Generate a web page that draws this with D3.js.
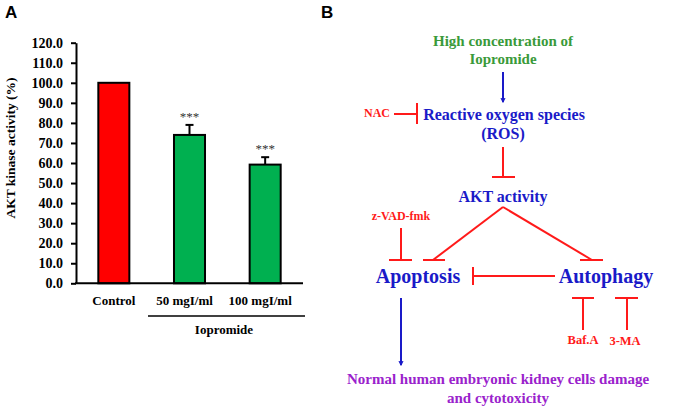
<!DOCTYPE html>
<html>
<head>
<meta charset="utf-8">
<script src="https://cdn.jsdelivr.net/npm/d3@7"></script>
<style>
  body { margin: 0; background: #fff; }
  svg text { font-family: "Liberation Serif", "Times New Roman", serif; font-weight: bold; }
</style>
</head>
<body>
<script>
// chart values
const categories = ["Control", "50 mgI/ml", "100 mgI/ml"];
const values = [100, 74, 59.2];
const errors = [0, 5, 3.7];
const stars = ["", "***", "***"];
const barColors = ["#ff0000", "#00b050", "#00b050"];
const yTicks = d3.range(0, 121, 10);

const W = 677, H = 409;
const svg = d3.select("body").append("svg")
    .attr("width", W)
    .attr("height", H);

// panel letters
svg.append("text").attr("x", 5).attr("y", 18).text("A")
    .style("font-family", "Liberation Sans, Arial, sans-serif").style("font-size", "17px");
svg.append("text").attr("x", 321).attr("y", 18).text("B")
    .style("font-family", "Liberation Sans, Arial, sans-serif").style("font-size", "17px");

// ---- Panel A: bar chart ----
const y = d3.scaleLinear().domain([0, 120]).range([283.3, 42.7]);
const x = d3.scaleBand().domain(categories).range([76, 303]).paddingInner(0.59).paddingOuter(0.295);

const g = svg.append("g");

const yAxis = g.append("g")
    .attr("transform", "translate(76,0)")
    .call(d3.axisLeft(y).tickValues(yTicks).tickFormat(d3.format(".1f")).tickSize(5).tickSizeOuter(0).tickPadding(8));
yAxis.select(".domain").attr("stroke-width", 2);
yAxis.selectAll(".tick line").attr("stroke-width", 2);
yAxis.selectAll("text").style("font-size", "14px").style("font-family", "Liberation Serif, serif").style("font-weight", "bold").attr("fill", "#000");

g.selectAll("rect.bar")
  .data(values)
  .join("rect")
    .attr("class", "bar")
    .attr("x", (d, i) => x(categories[i]))
    .attr("width", x.bandwidth())
    .attr("y", d => y(d))
    .attr("height", d => y(0) - y(d))
    .attr("fill", (d, i) => barColors[i])
    .attr("stroke", "#000")
    .attr("stroke-width", 2);

// error bars (upper only)
const errs = values.map((v, i) => ({ v, e: errors[i], c: categories[i], s: stars[i] })).filter(d => d.e > 0);
g.selectAll("line.err")
  .data(errs)
  .join("line")
    .attr("x1", d => x(d.c) + x.bandwidth() / 2)
    .attr("x2", d => x(d.c) + x.bandwidth() / 2)
    .attr("y1", d => y(d.v))
    .attr("y2", d => y(d.v + d.e))
    .attr("stroke", "#000").attr("stroke-width", 2);
g.selectAll("line.cap")
  .data(errs)
  .join("line")
    .attr("x1", d => x(d.c) + x.bandwidth() / 2 - 4)
    .attr("x2", d => x(d.c) + x.bandwidth() / 2 + 4)
    .attr("y1", d => y(d.v + d.e))
    .attr("y2", d => y(d.v + d.e))
    .attr("stroke", "#000").attr("stroke-width", 2);
g.selectAll("text.star")
  .data(errs)
  .join("text")
    .attr("x", d => x(d.c) + x.bandwidth() / 2)
    .attr("y", d => y(d.v + d.e) - 4)
    .attr("text-anchor", "middle")
    .style("font-size", "13px")
    .style("font-weight", "normal")
    .attr("fill", "#333")
    .text(d => d.s);

// x axis line
g.append("line")
    .attr("x1", 75).attr("x2", 303)
    .attr("y1", y(0)).attr("y2", y(0))
    .attr("stroke", "#000").attr("stroke-width", 2);

g.selectAll("text.cat")
  .data(categories)
  .join("text")
    .attr("x", (d, i) => x(d) + x.bandwidth() / 2 - (i ? 5 : 0))
    .attr("y", 305)
    .attr("text-anchor", "middle")
    .style("font-size", "13px")
    .text(d => d);

g.append("line").attr("x1", 148).attr("x2", 305).attr("y1", 316).attr("y2", 316)
    .attr("stroke", "#000").attr("stroke-width", 1.5);
g.append("text").attr("x", 224).attr("y", 334).attr("text-anchor", "middle")
    .style("font-size", "13px").text("Iopromide");

g.append("text")
    .attr("transform", "translate(15,148) rotate(-90)")
    .attr("text-anchor", "middle")
    .style("font-size", "13.5px")
    .text("AKT kinase activity (%)");

// ---- Panel B: pathway diagram ----
const blue = "#1a1ac8", red = "#ff1a1a", green = "#3a9a3a", purple = "#9a22cc";
const b = svg.append("g");

function label(txt, cx, cy, size, color) {
  b.append("text").attr("x", cx).attr("y", cy).attr("text-anchor", "middle")
    .attr("dominant-baseline", "central")
    .style("font-size", size + "px").attr("fill", color).text(txt);
}
function seg(x1, y1, x2, y2, color) {
  b.append("line").attr("x1", x1).attr("y1", y1).attr("x2", x2).attr("y2", y2)
    .attr("stroke", color).attr("stroke-width", 2);
}

svg.append("defs").append("marker")
    .attr("id", "arrow").attr("viewBox", "0 0 10 10")
    .attr("refX", 9).attr("refY", 5)
    .attr("markerWidth", 5).attr("markerHeight", 6)
    .attr("markerUnits", "userSpaceOnUse")
    .attr("orient", "auto")
  .append("path").attr("d", "M1,1 L9,5 L1,9").attr("fill", "none").attr("stroke", blue).attr("stroke-width", 2.2);

label("High concentration of", 503, 41, 15, green);
label("Iopromide", 503, 59, 15, green);

b.append("line").attr("x1", 503).attr("y1", 72).attr("x2", 503).attr("y2", 102)
    .attr("stroke", blue).attr("stroke-width", 2).attr("marker-end", "url(#arrow)");

label("NAC", 377, 113, 12, red);
seg(394, 114, 417, 114, red);
seg(417, 103, 417, 124, red);

label("Reactive oxygen species", 504, 114, 16, blue);
label("(ROS)", 503, 133, 16, blue);

seg(503, 147, 503, 177, red);
seg(492, 177, 515, 177, red);

label("AKT activity", 503, 196, 16, blue);

seg(503, 207, 433, 260, red);
seg(423, 260, 445, 260, red);
seg(503, 207, 592, 260, red);
seg(580, 260, 603, 260, red);

label("z-VAD-fmk", 401, 216, 12, red);
seg(401, 228, 401, 260, red);
seg(389, 260, 412, 260, red);

label("Apoptosis", 418, 276, 20, blue);
label("Autophagy", 606, 276, 20, blue);

seg(555, 276, 473, 276, red);
seg(473, 267, 473, 285, red);

seg(572, 298, 594, 298, red);
seg(583, 298, 583, 330, red);
seg(615, 298, 638, 298, red);
seg(627, 298, 627, 330, red);
label("Baf.A", 583, 340, 12.5, red);
label("3-MA", 625, 341, 12.5, red);

b.append("line").attr("x1", 401).attr("y1", 298).attr("x2", 401).attr("y2", 365)
    .attr("stroke", blue).attr("stroke-width", 2).attr("marker-end", "url(#arrow)");

label("Normal human embryonic kidney cells damage", 498, 379, 15, purple);
label("and cytotoxicity", 498, 398, 15, purple);
</script>
</body>
</html>
